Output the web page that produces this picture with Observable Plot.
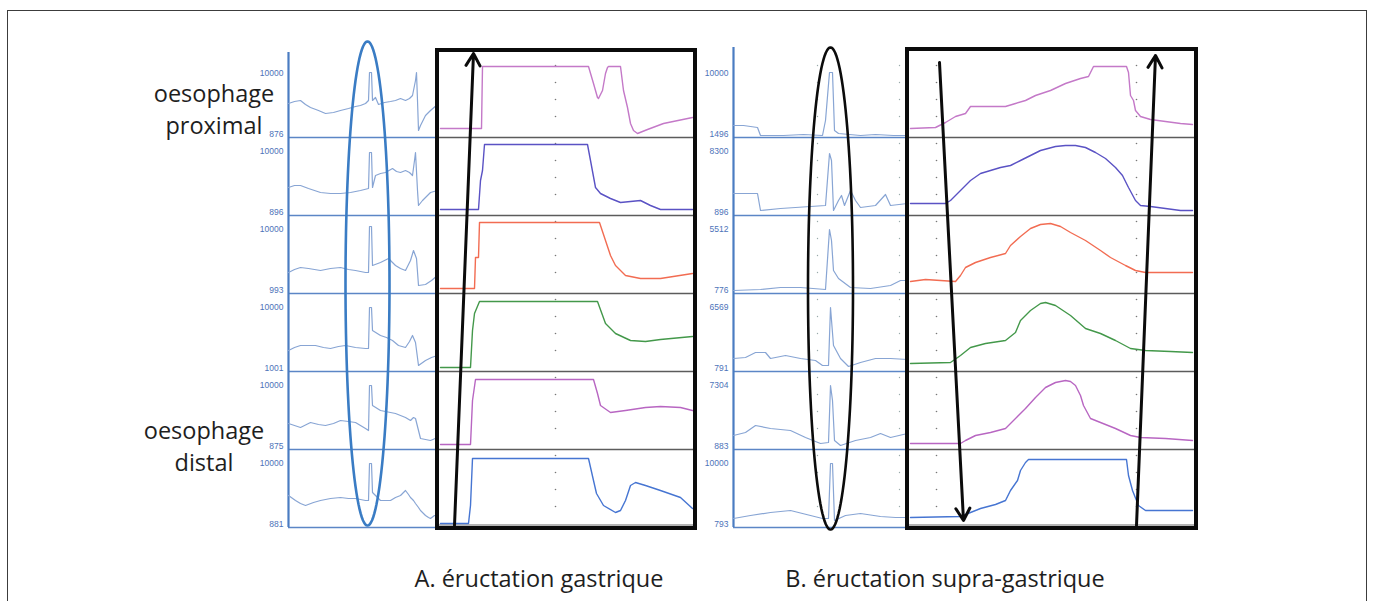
<!DOCTYPE html>
<html><head><meta charset="utf-8">
<script src="https://cdn.jsdelivr.net/npm/d3@7"></script>
<script src="https://cdn.jsdelivr.net/npm/@observablehq/plot@0.6"></script>
<style>
html,body{margin:0;padding:0;background:#fff;}
#fig{position:relative;width:1373px;height:601px;overflow:hidden;font-family:"Open Sans",sans-serif;}
#frame{position:absolute;left:7px;top:10px;width:1360px;height:640px;border:1.6px solid #3c3c3c;box-sizing:border-box;}
.panel{position:absolute;top:0;}
.lbl{position:absolute;text-align:center;color:#1e1e1e;white-space:nowrap;}
</style></head>
<body><div id="fig"><div id="frame"></div></div>
<script>
// ---------- data (time in samples within each panel, level = trace height within channel row) ----------
const channels = [0, 1, 2, 3, 4, 5]; // proximal (0) -> distal (5)

const labelsA_max = ["10000", "10000", "10000", "10000", "10000", "10000"];
const labelsA_min = ["876", "896", "993", "1001", "875", "881"];
const labelsB_max = ["10000", "8300", "5512", "6569", "7304", "10000"];
const labelsB_min = ["1496", "896", "776", "791", "883", "793"];

// A - raw (overview) traces
const rawA = [
  [[0,34],[6,36],[12,37],[17,33],[22,30],[30,27],[37,24],[45,25],[52,27],[60,29],[67,31],[72,32],[77,34],[80,37],[81,65],[83,65],[84,37],[87,40],[90,33],[96,35],[102,36],[107,37],[112,39],[117,37],[121,39],[124,42],[127,57],[128,65],[129,37],[130,7],[132,12],[137,22],[142,27],[149,33]],
  [[0,28],[6,30],[12,30],[20,27],[32,23],[42,22],[52,22],[62,23],[72,25],[80,27],[81,63],[83,63],[84,28],[87,40],[92,42],[97,43],[104,47],[108,44],[112,43],[117,45],[121,43],[124,40],[126,55],[127,63],[129,25],[130,10],[134,15],[142,23],[149,25]],
  [[0,21],[6,24],[12,26],[20,25],[32,23],[42,25],[52,26],[60,24],[67,23],[77,21],[80,21],[81,67],[83,67],[84,28],[92,31],[100,35],[107,28],[112,25],[117,23],[122,33],[125,43],[128,35],[130,8],[137,9],[143,13],[149,18]],
  [[0,21],[6,24],[12,26],[27,26],[35,24],[42,23],[50,25],[57,26],[67,24],[77,23],[80,23],[81,64],[83,64],[84,41],[92,36],[98,34],[104,31],[110,26],[117,24],[121,30],[124,36],[127,29],[130,6],[137,11],[143,14],[149,16]],
  [[0,26],[6,24],[12,22],[22,27],[30,25],[37,24],[45,26],[52,29],[60,28],[67,27],[77,21],[80,19],[81,64],[83,64],[84,44],[92,39],[102,37],[107,36],[112,34],[117,32],[122,29],[125,32],[127,31],[130,19],[132,11],[137,10],[142,9],[149,12]],
  [[0,32],[7,27],[12,24],[17,22],[25,25],[32,27],[42,29],[52,30],[60,29],[67,29],[77,27],[80,27],[81,64],[83,64],[84,35],[92,27],[102,27],[107,30],[112,32],[115,35],[117,37],[120,33],[122,30],[125,27],[127,24],[130,20],[132,17],[135,14],[137,12],[140,10],[142,9],[146,12],[149,12]]
];
// A - zoomed colour traces
const zoomA = [
  [[1,9],[42,9],[43,71],[149,71],[154,54],[158,40],[159,39],[163,47],[166,64],[168,70],[169,71],[181,71],[183,55],[184,47],[188,30],[191,14],[194,7],[198,4],[208,8],[224,14],[253,20]],
  [[1,6],[39,6],[41,35],[43,45],[45,71],[148,71],[151,55],[156,28],[161,22],[171,17],[181,13],[201,15],[211,10],[221,6],[253,6]],
  [[1,5],[35,5],[36,36],[39,36],[40,71],[160,71],[166,53],[171,38],[176,28],[186,18],[201,15],[221,15],[253,20]],
  [[1,4],[31,4],[33,41],[35,58],[40,70],[158,70],[166,48],[176,38],[191,31],[206,30],[221,32],[253,35]],
  [[1,5],[31,5],[33,49],[36,70],[154,70],[158,56],[161,44],[171,37],[186,39],[206,42],[221,43],[241,42],[253,39]],
  [[1,4],[29,4],[31,22],[33,69],[149,69],[154,47],[157,34],[164,22],[176,15],[181,17],[186,27],[191,42],[196,45],[206,42],[221,37],[241,30],[253,19]]
];
// B - raw (overview) traces
const rawB = [
  [[0,12],[10,12],[24,10],[27,2],[50,2],[70,3],[89,2],[92,17],[96,65],[99,65],[101,7],[105,4],[127,2],[142,3],[160,2],[174,2]],
  [[0,22],[24,22],[27,5],[47,7],[77,9],[92,10],[96,62],[98,55],[100,5],[105,15],[108,20],[111,10],[117,25],[122,15],[127,8],[142,10],[152,21],[157,10],[174,12]],
  [[0,3],[27,4],[47,6],[67,6],[92,4],[96,64],[98,53],[100,23],[105,15],[117,6],[137,5],[157,8],[167,13],[174,13]],
  [[0,13],[12,14],[22,19],[32,19],[37,13],[52,16],[67,13],[82,11],[89,6],[95,6],[97,64],[100,26],[107,13],[115,5],[127,9],[142,13],[157,13],[174,12]],
  [[0,14],[12,17],[22,24],[37,21],[57,19],[72,12],[87,6],[95,7],[97,64],[99,49],[101,9],[107,4],[122,9],[137,12],[147,16],[157,12],[174,16]],
  [[0,9],[17,12],[37,15],[57,17],[77,12],[89,9],[95,9],[97,64],[99,64],[101,7],[112,12],[127,14],[147,11],[162,10],[174,10]]
];
// B - zoomed colour traces
const zoomB = [
  [[1,9],[26,10],[36,15],[46,21],[56,24],[61,31],[96,31],[106,34],[116,37],[126,42],[141,47],[156,54],[171,59],[179,61],[184,71],[217,71],[219,65],[221,42],[224,37],[226,27],[231,21],[241,18],[256,16],[271,14],[283,13]],
  [[1,12],[36,12],[41,15],[51,25],[61,35],[71,42],[81,45],[91,48],[101,50],[111,55],[121,60],[131,65],[146,69],[156,70],[166,70],[176,68],[186,63],[196,57],[206,48],[213,40],[219,28],[226,15],[231,10],[241,9],[256,7],[271,5],[283,5]],
  [[1,12],[16,14],[31,13],[46,12],[51,18],[56,26],[66,31],[81,36],[96,40],[101,48],[111,57],[121,65],[131,69],[141,70],[151,67],[161,61],[176,53],[191,43],[201,36],[216,28],[226,23],[236,21],[283,21]],
  [[1,8],[41,9],[51,16],[61,24],[76,28],[96,31],[106,39],[111,51],[121,61],[131,68],[136,69],[146,66],[161,56],[176,43],[191,38],[206,31],[221,23],[236,21],[261,20],[283,19]],
  [[1,6],[51,6],[56,9],[66,14],[81,17],[96,21],[106,31],[116,41],[126,52],[136,62],[146,67],[156,69],[161,68],[166,64],[171,54],[174,44],[181,31],[191,27],[206,21],[221,14],[231,12],[256,11],[283,9]],
  [[1,10],[51,11],[61,15],[71,19],[86,23],[96,27],[101,37],[108,47],[111,57],[116,65],[119,68],[217,68],[219,52],[223,37],[229,22],[236,17],[283,17]]
];
const zoomColors = ["#c479c8", "#5a52c4", "#f26c52", "#43984a", "#b866c2", "#4675d2"];

const captions = ["A. éructation gastrique", "B. éructation supra-gastrique"];
const regionLabels = [["oesophage", "proximal"], ["oesophage", "distal"]];

// ---------- layout ----------
const ROW = 78, FULL = 64, NROW = 6;
const TOP = 59, BOTTOM = 527, H = 601;
const blueAxis = "#4a7cc2", blueSep = "#5c86c6", blueTrace = "#88a5d4", blueText = "#4d73b9";
const fig = document.getElementById("fig");

const toRows = (traces) => traces.flatMap((pts, r) =>
  pts.map(([t, v]) => ({ch: r, t, y: (NROW - 1 - r) * ROW + v})));
const ellipse = (cx, cy, rx, ry) => d3.range(0, 361, 3).map(a =>
  ({t: cx + rx * Math.cos(a * Math.PI / 180), y: cy + ry * Math.sin(a * Math.PI / 180)}));
const dotsAt = (ts) => ts.flatMap(t => channels.flatMap(r =>
  [21, 38, 55, 72].map(v => ({t, y: (NROW - 1 - r) * ROW + v}))));
const bases = channels.map(r => (NROW - 1 - r) * ROW);

function place(svg, left) {
  svg.classList.add("panel");
  svg.style.left = left + "px";
  fig.appendChild(svg);
}

function rawPanel({left, span, traces, maxL, minL, axisTop, ell, dots}) {
  const mL = 48, mR = 2;
  const svg = Plot.plot({
    width: mL + span + mR, height: H,
    marginLeft: mL, marginRight: mR, marginTop: TOP, marginBottom: H - BOTTOM,
    x: {domain: [0, span], axis: null},
    y: {domain: [0, NROW * ROW], axis: null},
    style: {background: "transparent", overflow: "visible", maxWidth: "none"},
    marks: [
      Plot.dot(dots, {x: "t", y: "y", r: 0.7, fill: "#9aa", stroke: null}),
      Plot.ruleY(bases, {stroke: blueSep, strokeWidth: 1.6}),
      Plot.ruleX([0], {y1: 0, y2: NROW * ROW + axisTop, stroke: blueAxis, strokeWidth: 2.2}),
      Plot.line(toRows(traces), {x: "t", y: "y", z: "ch", stroke: blueTrace, strokeWidth: 1.2}),
      Plot.text(channels, {x: 0, y: r => (NROW - 1 - r) * ROW + FULL, text: r => maxL[r], textAnchor: "end", dx: -5, fontSize: 8.5, fill: blueText, fontFamily: "Liberation Sans"}),
      Plot.text(channels, {x: 0, y: r => (NROW - 1 - r) * ROW + 3, text: r => minL[r], textAnchor: "end", dx: -5, fontSize: 8.5, fill: blueText, fontFamily: "Liberation Sans"}),
      Plot.line(ellipse(...ell.c, ...ell.r), {x: "t", y: "y", stroke: ell.color, strokeWidth: 2.6})
    ]
  });
  place(svg, left - mL);
}

function zoomPanel({left, span, traces, box, dots, arrows}) {
  const mL = 6, mR = 6;
  const marks = [
    Plot.dot(dotsAt(dots), {x: "t", y: "y", r: 0.8, fill: "#777", stroke: null}),
    Plot.ruleY(bases.slice(0, NROW - 1), {stroke: "#5c5c5c", strokeWidth: 1.5}),
    Plot.ruleY([2], {stroke: "#b4b4b4", strokeWidth: 3}),
    ...traces.map((pts, r) => Plot.line(toRows([pts]).map(d => ({...d, y: d.y - (NROW - 1) * ROW + (NROW - 1 - r) * ROW})),
      {x: "t", y: "y", stroke: zoomColors[r], strokeWidth: 1.4})),
    Plot.rect([0], {x1: box[0], x2: box[1], y1: box[2], y2: box[3], fill: "none", stroke: "#0b0b0b", strokeWidth: 4}),
    ...arrows.map(a => Plot.arrow([a], {x1: d => d[0], y1: d => d[1], x2: d => d[2], y2: d => d[3], stroke: "#0b0b0b", strokeWidth: 3, headLength: 7}))
  ];
  const svg = Plot.plot({
    width: mL + span + mR, height: H,
    marginLeft: mL, marginRight: mR, marginTop: TOP, marginBottom: H - BOTTOM,
    x: {domain: [0, span], axis: null},
    y: {domain: [0, NROW * ROW], axis: null},
    style: {background: "transparent", overflow: "visible", maxWidth: "none"},
    marks
  });
  place(svg, left - mL);
}

rawPanel({left: 288, span: 149, traces: rawA, maxL: labelsA_max, minL: labelsA_min, axisTop: 7,
  ell: {c: [79, 244], r: [22, 242], color: "#3a7cc4"}, dots: []});
rawPanel({left: 733, span: 174, traces: rawB, maxL: labelsB_max, minL: labelsB_min, axisTop: 12,
  ell: {c: [97, 239], r: [22.5, 241], color: "#0b0b0b"}, dots: dotsAt([84, 166])});
zoomPanel({left: 439, span: 254, traces: zoomA, box: [-2, 256, -1, 477], dots: [116],
  arrows: [[15, 2, 34, 474]]});
zoomPanel({left: 909, span: 285, traces: zoomB, box: [-2, 287, -1, 478], dots: [27, 227],
  arrows: [[30, 465, 54, 7], [227, 2, 246, 472]]});

// ---------- text ----------
function addLabel(lines, cx, top, size, lh) {
  const d = document.createElement("div");
  d.className = "lbl";
  d.style.left = (cx - 200) + "px";
  d.style.width = "400px";
  d.style.top = top + "px";
  d.style.fontSize = size + "px";
  d.style.lineHeight = lh + "px";
  d.innerHTML = lines.map(s => `<div>${s}</div>`).join("");
  fig.appendChild(d);
}
addLabel(regionLabels[0], 214, 77, 23.5, 32);
addLabel(regionLabels[1], 204, 414, 23.5, 32);
addLabel([captions[0]], 539, 563, 23.5, 30);
addLabel([captions[1]], 945, 563, 23.5, 30);
</script></body></html>
